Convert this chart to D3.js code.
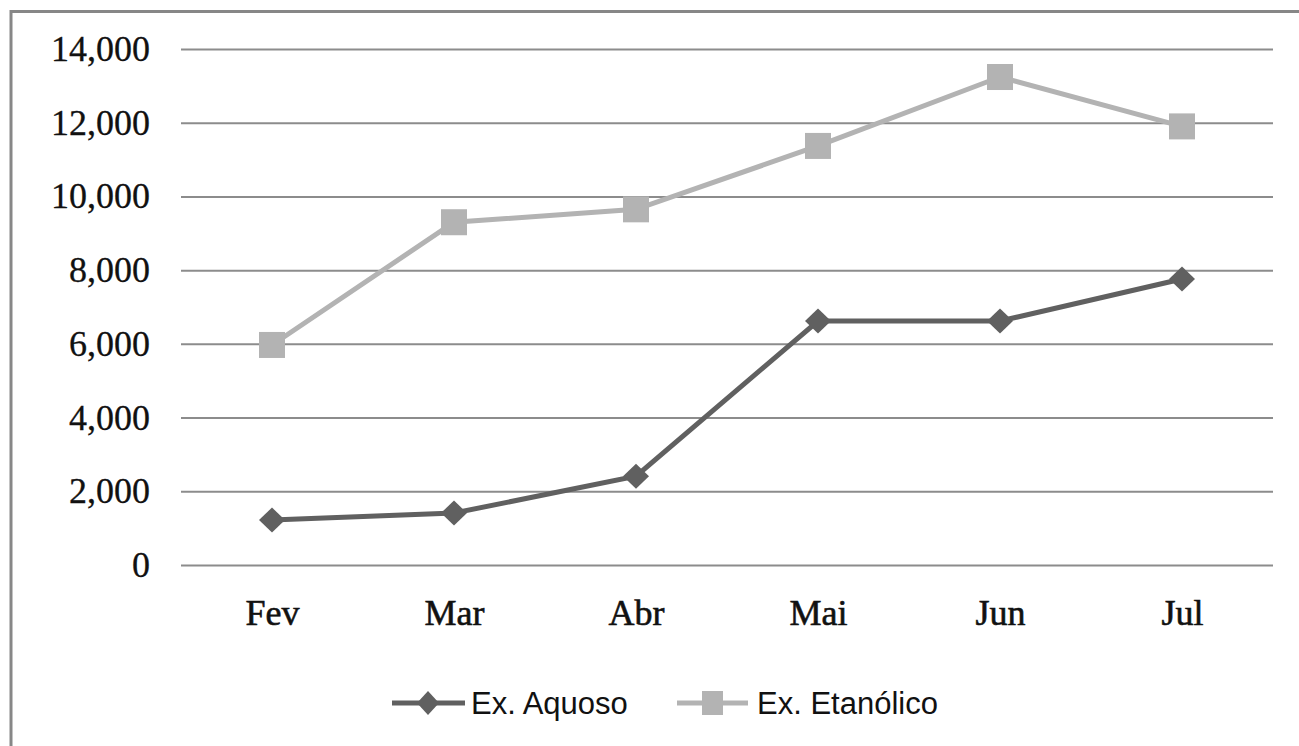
<!DOCTYPE html>
<html><head><meta charset="utf-8">
<script src="https://cdn.jsdelivr.net/npm/d3@7"></script>
<style>html,body{margin:0;padding:0;background:#fff;overflow:hidden;}svg{display:block;}</style>
</head><body>
<script>
const categories = ["Fev","Mar","Abr","Mai","Jun","Jul"];
const aquoso = [1220, 1410, 2410, 6620, 6620, 7760];
const etanolico = [5970, 9300, 9650, 11370, 13240, 11900];
const yTicks = [0,2000,4000,6000,8000,10000,12000,14000];
const seriesNames = ["Ex. Aquoso","Ex. Etanólico"];

(function(){
const W=1299,H=746;
const svg=d3.select("body").append("svg").attr("width",W).attr("height",H);
svg.append("rect").attr("x",11).attr("y",11.5).attr("width",W).attr("height",H)
  .attr("fill","#fff").attr("stroke","#878787").attr("stroke-width",3);

const mL=181,mR=1273,mT=49,mB=565;
const x=d3.scalePoint().domain(categories).range([mL,mR]).padding(0.5);
const y=d3.scaleLinear().domain([0,14000]).range([mB,mT]);

const fmt=d3.format(",");
const ya=svg.append("g").attr("transform",`translate(${mL},0)`)
  .call(d3.axisLeft(y).tickValues(yTicks).tickSize(-(mR-mL)).tickPadding(31).tickFormat(fmt));
ya.select(".domain").remove();
ya.selectAll(".tick line").attr("stroke","#8c8c8c").attr("stroke-width",2);
ya.selectAll(".tick text").attr("font-family","'Liberation Serif',serif").attr("font-size",36)
  .attr("fill","#111").attr("stroke","#111").attr("stroke-width",0.3).attr("dy","0.32em");

const xa=svg.append("g").attr("transform",`translate(0,${mB})`)
  .call(d3.axisBottom(x).tickSize(0).tickPadding(34));
xa.select(".domain").remove();
xa.selectAll(".tick text").attr("font-family","'Liberation Serif',serif").attr("font-size",36)
  .attr("fill","#111").attr("stroke","#111").attr("stroke-width",0.6);

const line=d3.line().x((d,i)=>x(categories[i])).y(d=>y(d));
const colA="#606060", colE="#b3b3b3";
svg.append("path").datum(etanolico).attr("d",line).attr("fill","none").attr("stroke",colE).attr("stroke-width",5);
svg.append("path").datum(aquoso).attr("d",line).attr("fill","none").attr("stroke",colA).attr("stroke-width",5);

svg.selectAll(".sq").data(etanolico).join("rect")
  .attr("x",(d,i)=>x(categories[i])-13).attr("y",d=>y(d)-13).attr("width",26).attr("height",26).attr("fill",colE);
const diamond=(cx,cy,rx,ry)=>`M${cx},${cy-ry}L${cx+rx},${cy}L${cx},${cy+ry}L${cx-rx},${cy}Z`;
svg.selectAll(".dm").data(aquoso).join("path")
  .attr("d",(d,i)=>diamond(x(categories[i]),y(d),13,12.5)).attr("fill",colA);

const ly=703;
const lg=svg.append("g");
lg.append("line").attr("x1",392).attr("x2",465).attr("y1",ly).attr("y2",ly).attr("stroke",colA).attr("stroke-width",5);
lg.append("path").attr("d",diamond(428,ly,11,12)).attr("fill",colA);
lg.append("text").attr("x",471).attr("y",ly).attr("dy","0.35em").text(seriesNames[0])
  .attr("font-family","'Liberation Sans',sans-serif").attr("font-size",31).attr("fill","#111");
lg.append("line").attr("x1",677).attr("x2",748).attr("y1",ly).attr("y2",ly).attr("stroke",colE).attr("stroke-width",5);
lg.append("rect").attr("x",702).attr("y",ly-12).attr("width",21).attr("height",24).attr("fill",colE);
lg.append("text").attr("x",757).attr("y",ly).attr("dy","0.35em").text(seriesNames[1])
  .attr("font-family","'Liberation Sans',sans-serif").attr("font-size",31).attr("fill","#111");
})();
</script>
</body></html>
